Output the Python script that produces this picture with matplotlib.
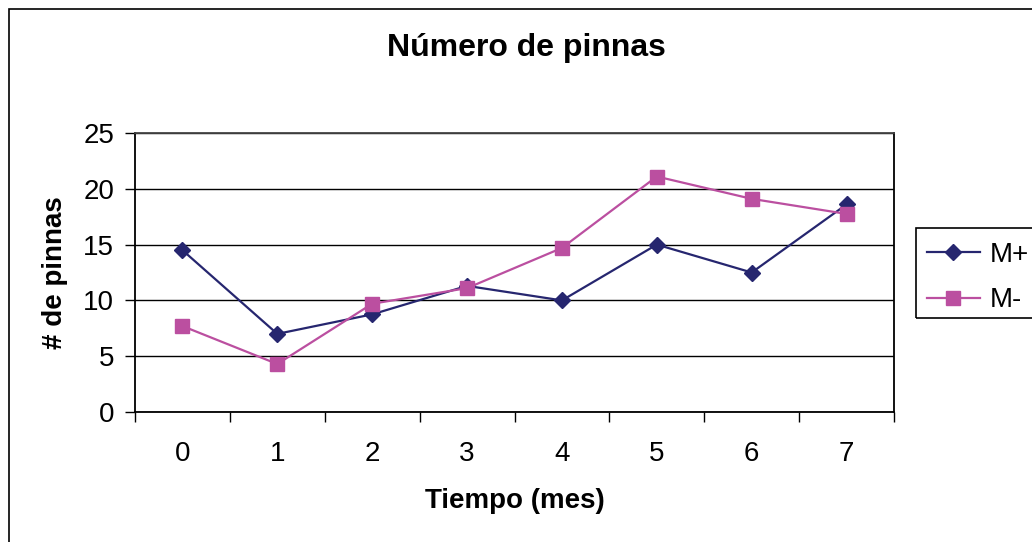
import numpy as np
import matplotlib
matplotlib.use('Agg')
import matplotlib.pyplot as plt
from matplotlib.patches import Rectangle

plt.rcParams['font.family'] = ['Liberation Sans', 'DejaVu Sans']

# meses y número de pinnas por tratamiento
meses = [0, 1, 2, 3, 4, 5, 6, 7]
m_mas = [14.5, 7.0, 8.75, 11.3, 10.0, 15.0, 12.5, 18.6]
m_menos = [7.7, 4.3, 9.7, 11.1, 14.7, 21.1, 19.1, 17.75]
series = ['M+', 'M-']

c_mas = '#26266f'
c_menos = '#bb4fa0'

W, H = 1032, 542
fig = plt.figure(figsize=(W/100, H/100), dpi=100)
ax = fig.add_axes([135/W, 130/H, 759/W, 279/H])

# marco exterior del gráfico
fig.add_artist(Rectangle((9/W, -0.05), 1.1, (H-9)/H + 0.05, transform=fig.transFigure,
                         fill=False, ec='black', lw=1.2, clip_on=False))

x = np.arange(len(meses))
ax.plot(x, m_mas, color=c_mas, lw=1.6, marker='D', ms=8.5, label=series[0], zorder=3)
ax.plot(x, m_menos, color=c_menos, lw=1.6, marker='s', ms=9.5, label=series[1], zorder=3)

ax.set_xlim(-0.5, len(meses) - 0.5)
ax.set_ylim(0, 25)
ax.set_yticks(range(0, 26, 5))
ax.yaxis.grid(True, color='black', lw=1)
ax.set_axisbelow(True)

ax.set_xticks(x)
ax.set_xticklabels([str(m) for m in meses])
ax.set_xticks(np.arange(-0.5, len(meses)), minor=True)
ax.tick_params(axis='x', which='major', length=0, labelsize=20, pad=21)
ax.tick_params(axis='x', which='minor', length=7, width=1, direction='out')
ax.tick_params(axis='y', length=7, width=1, labelsize=20, pad=8)

for s in ax.spines.values():
    s.set_color('black')
    s.set_linewidth(1.3)
ax.spines['top'].set_color('#444444')

ax.set_xlabel('Tiempo (mes)', fontsize=20, fontweight='bold', labelpad=15)
ax.set_ylabel('# de pinnas', fontsize=20, fontweight='bold', labelpad=11)
fig.text(526/W, 1 - 48/H, 'Número de pinnas', ha='center', va='center',
         fontsize=23, fontweight='bold')

# leyenda con el marco recortado a la derecha
fig.add_artist(Rectangle((916/W, 1 - 318/H), 0.2, 90/H, transform=fig.transFigure,
                         fill=False, ec='black', lw=1.2, clip_on=False))
fig.legend(loc='upper left', bbox_to_anchor=(927/W, 1 - 242/H), frameon=False,
           fontsize=20, handlelength=1.9, handletextpad=0.36, labelspacing=0.7,
           borderaxespad=0, borderpad=0)

fig.savefig('out.png', dpi=100)
